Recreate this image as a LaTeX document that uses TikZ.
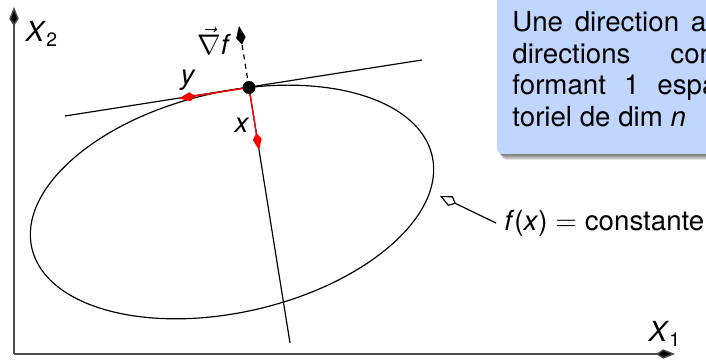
\documentclass[tikz,border=0pt]{standalone}
\usepackage{fontspec}
\setmainfont{TeX Gyre Heros}
\usetikzlibrary{arrows.meta}
\definecolor{boxblue}{RGB}{192,214,255}
\begin{document}
\begin{tikzpicture}[x=0.423pt,y=-0.423pt,
  font=\fontsize{11.7}{13.4}\selectfont,
  axis/.style={draw=black!70, line width=0.6pt, -{Kite[length=8pt,width=4pt,inset=3pt,fill=black]}},
  curve/.style={draw=black, line width=0.5pt},
  redvec/.style={draw=red, line width=0.6pt, -{Kite[length=7.2pt,width=3.8pt,inset=2.6pt,fill=red]}},
  lab/.style={inner sep=0pt},
  boxline/.style={anchor=base west, inner sep=0pt}]
\useasboundingbox (0,0) rectangle (706,361);
\clip (0,0) rectangle (706,361);
% text box with shadow
\foreach \d in {1,...,7}
  \fill[black, opacity=0.11, rounded corners=3pt] (497+\d*0.5,-20) rectangle (780,153+\d);
\fill[boxblue, rounded corners=2.5pt] (497,-20) rectangle (780,154);
\node[boxline] (L1) at (512,32) {\makebox[82pt][s]{Une direction a}};
\node[boxline] (L2) at (512,63.5) {\makebox[85.7pt][s]{directions con}};
\node[boxline] (L3) at (512,95) {\makebox[86.7pt][s]{formant 1 espa}};
\node[boxline] (L4) at (512,126.5) {toriel de dim \textit{n}};
% axes
\coordinate (O) at (14,354);
\coordinate (Xend) at (675,354);
\coordinate (Yend) at (14,7);
\draw[axis] (O) -- (Xend);
\draw[axis] (O) -- (Yend);
\node[lab] (X1) at (665,334) {\textit{X}\textsubscript{1}};
\node[lab] (X2) at (42,34) {\textit{X}\textsubscript{2}};
% ellipse
\coordinate (C) at (232,202);
\draw[curve, rotate around={13:(C)}] (C) ellipse [x radius=205.4, y radius=110.1];
% tangent and normal
\coordinate (P) at (249,87.5);
\coordinate (T1) at (65,116);
\coordinate (T2) at (422,60);
\coordinate (N1) at (290,343);
\coordinate (G) at (239,26);
\draw[curve] (T1) -- (T2);
\draw[curve] (P) -- (N1);
\draw[curve, dash pattern=on 2.2pt off 1.8pt, -{Kite[length=8pt,width=4pt,inset=3pt,fill=black]}] (P) -- (G);
% red vectors
\coordinate (VX) at (259,150);
\coordinate (VY) at (179,98.5);
\draw[redvec] (P) -- (VX);
\draw[redvec] (P) -- (VY);
\node[circle, fill=black, inner sep=0pt, minimum size=5.5pt] (Pdot) at (P) {};
\node[lab] (ylab) at (188,80) {\textit{y}};
\node[lab] (xlab) at (242,125) {\textit{x}};
\node[lab] (glab) at (214,41) {$\vec{\nabla}$\textit{f}};
% level set label
\coordinate (E) at (440,196);
\node[anchor=west] (flab) at (496,223) {\textit{f}(\textit{x})${}={}$constante};
\draw[curve, -{Kite[open,fill=white,length=7.5pt,width=4.6pt,inset=2.6pt]}] (flab.west) -- (E);
\end{tikzpicture}
\end{document}
